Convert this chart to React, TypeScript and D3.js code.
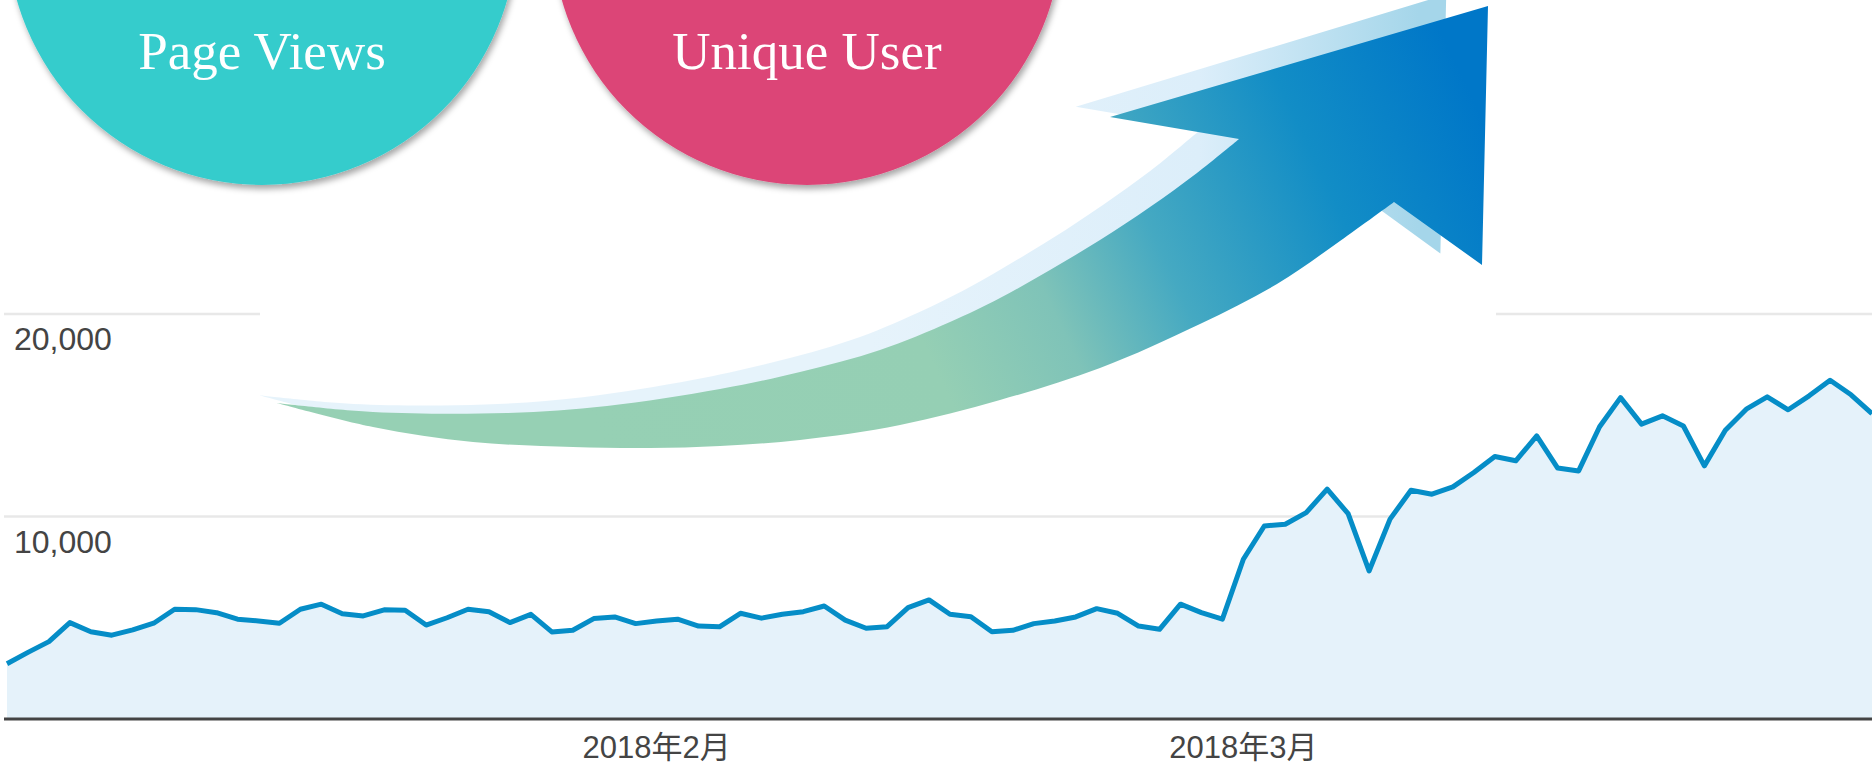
import React from 'react';
import * as d3 from 'd3';

// ---- data ----
const startDate = new Date(2018, 0, 1);
const pageViews = [
  2730, 3290, 3820, 4760, 4310, 4140, 4400, 4730, 5420, 5400,
  5250, 4930, 4840, 4730, 5420, 5670, 5200, 5090, 5390, 5370,
  4640, 5000, 5420, 5300, 4760, 5170, 4300, 4380, 4960, 5040,
  4710, 4840, 4930, 4590, 4550, 5220, 4980, 5170, 5300, 5580,
  4880, 4480, 4560, 5500, 5880, 5170, 5050, 4310, 4380, 4710,
  4840, 5040, 5450, 5220, 4590, 4430, 5670, 5250, 4930, 7890,
  9530, 9620, 10190, 11350, 10140, 7310, 9870, 11300, 11100, 11460,
  12170, 12960, 12750, 13980, 12390, 12250, 14430, 15870, 14560, 14970,
  14470, 12500, 14260, 15300, 15910, 15270, 15960, 16730, 16010, 15080,
];
const yTicks = [10000, 20000];
const monthTicks = [new Date(2018, 1, 1), new Date(2018, 2, 1)];
const monthLabels = ['2018年2月', '2018年3月'];
const bubbleLabels = ['Page Views', 'Unique User'];
const bubbleColors = ['#35cccc', '#dc4577'];

// ---- decorative arrow outline (pixel geometry of the pasted artwork) ----
const arrowTop: [number, number][] = [
  [277, 403], [373, 412], [507, 413], [607, 406], [720, 389], [800, 372],
  [880, 350], [950, 322], [1000, 298], [1050, 270], [1100, 240], [1150, 207],
  [1197, 173], [1239, 139],
];
const arrowHead: [number, number][] = [[1110, 117], [1488, 6], [1482, 265], [1394, 202]];
const arrowBottom: [number, number][] = [
  [1394, 202], [1340, 241], [1277, 284], [1200, 324], [1100, 368], [1000, 400],
  [900, 425], [800, 440], [720, 446], [650, 448], [573, 447], [473, 442],
  [373, 427], [277, 403],
];

const W = 1872;
const H = 764;

export default function App() {
  const dates = pageViews.map((_, i) => d3.timeDay.offset(startDate, i));
  const x = d3.scaleTime().domain([dates[0], dates[dates.length - 1]]).range([7, 1872]);
  const y = d3.scaleLinear().domain([0, 20000]).range([719, 314]);

  const area = d3
    .area<number>()
    .x((_, i) => x(dates[i]))
    .y0(y(0))
    .y1((d) => y(d));
  const line = d3
    .line<number>()
    .x((_, i) => x(dates[i]))
    .y((d) => y(d));

  const edge = d3.line<[number, number]>().curve(d3.curveCatmullRom.alpha(0.5));
  const topStr = edge(arrowTop) as string;
  const botStr = (edge(arrowBottom) as string).replace(/^M/, 'L');
  const headStr = arrowHead.map((p) => `L${p[0]},${p[1]}`).join('');
  const arrowPath = topStr + headStr + botStr + 'Z';

  const axisFont = "'Liberation Sans', Arial, 'Noto Sans CJK SC', sans-serif";

  return (
    <svg
      width={W}
      height={H}
      viewBox={`0 0 ${W} ${H}`}
      style={{ position: 'absolute', left: 0, top: 0, display: 'block', background: '#fff' }}
    >
      <defs>
        <linearGradient id="arrowGrad" gradientUnits="userSpaceOnUse" x1={600} y1={450} x2={1450} y2={50}>
          <stop offset="0" stopColor="#96d0b4" />
          <stop offset="0.36" stopColor="#95cfb4" />
          <stop offset="0.5" stopColor="#7fc3b8" />
          <stop offset="0.63" stopColor="#45a9c2" />
          <stop offset="0.82" stopColor="#128dc6" />
          <stop offset="1" stopColor="#0077c8" />
        </linearGradient>
        <linearGradient id="shadowGrad" gradientUnits="userSpaceOnUse" x1={900} y1={0} x2={1460} y2={0}>
          <stop offset="0" stopColor="#e6f3fb" />
          <stop offset="0.6" stopColor="#dceefa" />
          <stop offset="1" stopColor="#a5d6ea" />
        </linearGradient>
        <filter id="bubbleShadow" x="-20%" y="-20%" width="140%" height="150%">
          <feDropShadow dx="2" dy="4" stdDeviation="3" floodColor="#000" floodOpacity="0.35" />
        </filter>
      </defs>

      {/* gridlines */}
      {yTicks.map((t) => (
        <line key={t} x1={4} x2={W} y1={y(t)} y2={y(t)} stroke="#e8e8e8" strokeWidth={2.5} />
      ))}

      {/* area + line */}
      <path d={area(pageViews) as string} fill="#e5f2fa" />
      <path
        d={line(pageViews) as string}
        fill="none"
        stroke="#058dc7"
        strokeWidth={5}
        strokeLinejoin="round"
      />

      {/* baseline */}
      <line x1={4} x2={W} y1={y(0)} y2={y(0)} stroke="#444" strokeWidth={3} />

      {/* y labels */}
      {yTicks.map((t) => (
        <text key={t} x={14} y={y(t) + 36} fontFamily={axisFont} fontSize={32} fill="#444">
          {d3.format(',')(t)}
        </text>
      ))}

      {/* x labels */}
      {monthTicks.map((d, i) => (
        <text
          key={i}
          x={x(d)}
          y={758}
          textAnchor="middle"
          fontFamily={axisFont}
          fontSize={31}
          fill="#444"
        >
          {monthLabels[i]}
        </text>
      ))}

      {/* pasted arrow artwork with white backdrop */}
      <rect x={260} y={0} width={1236} height={452} fill="#fff" />
      <path d={arrowPath} fill="url(#shadowGrad)" transform="matrix(0.98,-0.003,0,1,-12,-7)" />
      <path d={arrowPath} fill="url(#arrowGrad)" />

      {/* bubbles */}
      {bubbleLabels.map((lab, i) => {
        const cx = i === 0 ? 262 : 807;
        return (
          <g key={lab}>
            <circle cx={cx} cy={-70} r={255} fill={bubbleColors[i]} filter="url(#bubbleShadow)" />
            <text
              x={cx}
              y={69}
              textAnchor="middle"
              fontFamily="'Liberation Serif', 'Times New Roman', serif"
              fontSize={53}
              fill="#fff"
            >
              {lab}
            </text>
          </g>
        );
      })}
    </svg>
  );
}
